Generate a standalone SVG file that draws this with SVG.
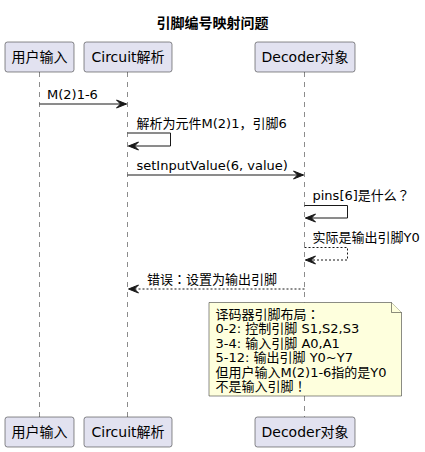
<svg xmlns="http://www.w3.org/2000/svg" width="425" height="452" viewBox="0 0 425 452">
<style>
text{font-family:"DejaVu Sans","Noto Sans CJK SC",sans-serif;fill:#000}
.cjk{font-family:"Noto Sans CJK JP",sans-serif}
.title{font-size:14px;font-weight:bold}
.pt{font-size:14px}
.msg{font-size:13px}
.part{fill:#E2E2F0;stroke:#181818;stroke-width:0.5}
.life{stroke:#181818;stroke-width:0.5;stroke-dasharray:5,5;fill:none}
.ln{stroke:#181818;stroke-width:1;fill:none}
.dl{stroke:#181818;stroke-width:1;fill:none;stroke-dasharray:2,2}
.ah{fill:#181818;stroke:#181818;stroke-width:1}
.note{fill:#FEFFDD;stroke:#181818;stroke-width:0.5}
</style>
<text class="title" x="212.5" y="28" text-anchor="middle">引脚编号映射问题</text>
<g id="lifelines">
<line class="life" x1="39.5" y1="72" x2="39.5" y2="417"/>
<line class="life" x1="127.5" y1="72" x2="127.5" y2="417"/>
<line class="life" x1="304.5" y1="72" x2="304.5" y2="302.5"/>
<line class="life" x1="304.5" y1="396" x2="304.5" y2="417"/>
</g>
<g id="user">
<rect class="part" x="5" y="42" width="69" height="30" rx="2.5"/>
<text class="pt" x="39.5" y="62" text-anchor="middle">用户输入</text>
<rect class="part" x="5" y="417" width="69" height="30" rx="2.5"/>
<text class="pt" x="39.5" y="437" text-anchor="middle">用户输入</text>
</g>
<g id="circuit">
<rect class="part" x="84" y="42" width="88" height="30" rx="2.5"/>
<text class="pt" x="128" y="62" text-anchor="middle">Circuit解析</text>
<rect class="part" x="84" y="417" width="88" height="30" rx="2.5"/>
<text class="pt" x="128" y="437" text-anchor="middle">Circuit解析</text>
</g>
<g id="decoder">
<rect class="part" x="255" y="42" width="100" height="30" rx="2.5"/>
<text class="pt" x="305" y="62" text-anchor="middle">Decoder对象</text>
<rect class="part" x="255" y="417" width="100" height="30" rx="2.5"/>
<text class="pt" x="305" y="437" text-anchor="middle">Decoder对象</text>
</g>
<g id="connectors">
<line class="ln" x1="39.5" y1="104" x2="126.5" y2="104"/>
<polygon class="ah" points="116.5,100 126.5,104 116.5,108 120.5,104"/>
<text class="msg" x="47" y="99">M(2)1-6</text>

<polyline class="ln" points="127.5,133 170.5,133 170.5,146 128.5,146"/>
<polygon class="ah" points="138.5,142 128.5,146 138.5,150 134.5,146"/>
<text class="msg" x="136.5" y="128">解析为元件M(2)1<tspan class="cjk">，</tspan>引脚6</text>

<line class="ln" x1="127.5" y1="175" x2="303.5" y2="175"/>
<polygon class="ah" points="293.5,171 303.5,175 293.5,179 297.5,175"/>
<text class="msg" x="136.5" y="170">setInputValue(6, value)</text>

<polyline class="ln" points="304.5,205.5 347.5,205.5 347.5,218 305.5,218"/>
<polygon class="ah" points="315.5,214 305.5,218 315.5,222 311.5,218"/>
<text class="msg" x="312.5" y="200">pins[6]是什么<tspan class="cjk">？</tspan></text>

<polyline class="dl" points="304.5,247.5 347.5,247.5 347.5,260 305.5,260"/>
<polygon class="ah" points="315.5,256 305.5,260 315.5,264 311.5,260"/>
<text class="msg" x="312.5" y="242">实际是输出引脚Y0</text>

<line class="dl" x1="304.5" y1="289" x2="128.5" y2="289"/>
<polygon class="ah" points="138.5,285 128.5,289 138.5,293 134.5,289"/>
<text class="msg" x="147" y="284">错误<tspan class="cjk">：</tspan>设置为输出引脚</text>
</g>
<g id="note">
<path class="note" d="M209,302.5 L391.5,302.5 L401.5,312.5 L401.5,396 L209,396 Z"/>
<path class="note" d="M391.5,302.5 L391.5,312.5 L401.5,312.5" fill="none"/>
<text class="msg" x="215.5" y="318.5">译码器引脚布局<tspan class="cjk">：</tspan></text>
<text class="msg" x="215.5" y="333">0-2: 控制引脚 S1,S2,S3</text>
<text class="msg" x="215.5" y="347.5">3-4: 输入引脚 A0,A1</text>
<text class="msg" x="215.5" y="362">5-12: 输出引脚 Y0~Y7</text>
<text class="msg" x="215.5" y="376.5">但用户输入M(2)1-6指的是Y0</text>
<text class="msg" x="215.5" y="391">不是输入引脚<tspan class="cjk">！</tspan></text>
</g>
</svg>
